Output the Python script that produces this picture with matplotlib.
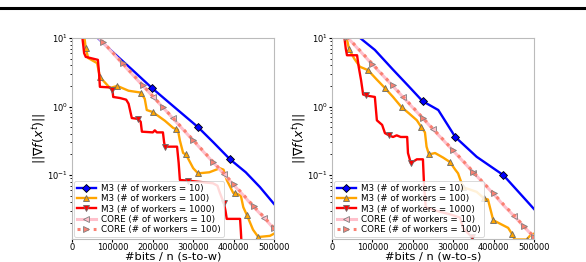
import numpy as np
import matplotlib
matplotlib.use('Agg')
import matplotlib.pyplot as plt
from matplotlib.lines import Line2D
from matplotlib.ticker import FixedLocator, ScalarFormatter

# ---- data (x = #bits / n, y = gradient norm) ----
labels = ['M3 (# of workers = 10)', 'M3 (# of workers = 100)', 'M3 (# of workers = 1000)',
          'CORE (# of workers = 10)', 'CORE (# of workers = 100)']
xlabels = ['#bits / n (s-to-w)', '#bits / n (w-to-s)']
xticks = [0, 100000, 200000, 300000, 400000, 500000]

# left panel (s-to-w)
m3_10_sw_x = [60000, 100000, 150000, 198000, 250000, 312000, 350000, 391000, 430000, 465000, 500000]
m3_10_sw_y = [10.5, 6.3, 3.4, 1.86, 1.02, 0.50, 0.30, 0.17, 0.11, 0.067, 0.038]

m3_100_sw_x = [30000, 34000, 40000, 62000, 69000, 94000, 112000, 140000, 170000, 180000, 185000,
               200000, 230000, 250000, 257000, 262000, 267000, 275000, 282000, 300000, 312000,
               340000, 366000, 375000, 383000, 399000, 404000, 418000, 424000, 433000, 448000,
               461000, 490000, 500000]
m3_100_sw_y = [11, 7.1, 5.1, 4.3, 2.7, 1.86, 2.0, 1.7, 1.6, 1.3, 0.89,
               0.83, 0.62, 0.49, 0.47, 0.46, 0.32, 0.21, 0.2, 0.126, 0.106,
               0.11, 0.126, 0.12, 0.085, 0.055, 0.055, 0.05, 0.034, 0.026, 0.016,
               0.0125, 0.013, 0.014]

m3_1000_sw_x = [25000, 30000, 34000, 64000, 67000, 69000, 94000, 100000, 102000, 119000, 134000,
                140000, 148000, 163000, 170000, 173000, 200000, 205000, 210000, 225000, 228000,
                230000, 260000, 264000, 267000, 287000, 349000, 360000, 366000, 376000, 380000,
                383000, 416000, 418000, 420000]
m3_1000_sw_y = [11, 6.0, 5.3, 4.8, 3.0, 1.94, 1.9, 1.75, 1.38, 1.33, 1.26,
                1.1, 0.68, 0.66, 0.6, 0.43, 0.42, 0.45, 0.42, 0.42, 0.3,
                0.26, 0.26, 0.15, 0.085, 0.083, 0.076, 0.07, 0.055, 0.039, 0.03,
                0.023, 0.023, 0.015, 0.009]

core_sw_x = [60000, 77000, 100000, 125000, 150000, 175000, 200000, 225000, 250000, 275000,
             300000, 325000, 350000, 375000, 400000, 425000, 450000, 475000, 500000]
core_10_sw_y = [11.0, 8.6, 6.1, 4.2, 2.9, 2.02, 1.40, 0.97, 0.67, 0.46,
                0.32, 0.22, 0.152, 0.105, 0.072, 0.050, 0.034, 0.024, 0.0165]
core_100_sw_y = [11.2, 8.7, 6.2, 4.3, 2.96, 2.05, 1.42, 0.98, 0.68, 0.47,
                 0.325, 0.224, 0.155, 0.107, 0.074, 0.051, 0.035, 0.0245, 0.017]

# right panel (w-to-s)
m3_10_ws_x = [65000, 106000, 150000, 190000, 224000, 263000, 305000, 358000, 424000, 473000, 500000]
m3_10_ws_y = [10.5, 6.7, 3.5, 1.97, 1.2, 0.89, 0.36, 0.185, 0.10, 0.048, 0.032]

m3_100_ws_x = [35000, 42000, 55000, 69000, 89000, 110000, 131000, 151000, 172000, 190000, 210000,
               221000, 230000, 234000, 240000, 255000, 275000, 292000, 305000, 312000, 324000,
               340000, 358000, 376000, 386000, 399000, 420000, 436000, 445000, 452000, 482000,
               492000, 500000]
m3_100_ws_y = [11, 6.9, 5.0, 3.8, 3.4, 2.5, 1.86, 1.38, 0.98, 0.8, 0.63,
               0.50, 0.42, 0.26, 0.2, 0.21, 0.18, 0.155, 0.12, 0.106, 0.067,
               0.062, 0.057, 0.046, 0.044, 0.022, 0.019, 0.017, 0.014, 0.0115, 0.0115,
               0.0135, 0.014]

m3_1000_ws_x = [30000, 34000, 37000, 62000, 66000, 72000, 77000, 84000, 106000, 111000, 124000,
                131000, 141000, 151000, 160000, 170000, 186000, 188000, 195000, 210000, 225000,
                228000, 232000, 260000, 290000, 317000, 324000, 346000, 350000]
m3_1000_ws_y = [11, 7, 5.6, 5.6, 3.8, 2.4, 1.5, 1.45, 1.38, 0.63, 0.54,
                0.41, 0.38, 0.36, 0.38, 0.36, 0.36, 0.21, 0.15, 0.17, 0.17,
                0.067, 0.034, 0.03, 0.027, 0.024, 0.017, 0.0125, 0.009]

core_ws_x = [38000, 60000, 80000, 100000, 125000, 150000, 175000, 200000, 225000, 250000,
             275000, 300000, 325000, 350000, 375000, 400000, 425000, 450000, 475000, 500000]
core_10_ws_y = [10.2, 7.4, 5.5, 4.1, 2.87, 2.0, 1.39, 0.96, 0.67, 0.465,
                0.325, 0.226, 0.157, 0.109, 0.076, 0.053, 0.036, 0.0255, 0.0177, 0.0124]
core_100_ws_y = [10.3, 7.5, 5.6, 4.19, 2.91, 2.03, 1.41, 0.98, 0.68, 0.474,
                 0.33, 0.23, 0.16, 0.111, 0.077, 0.054, 0.037, 0.026, 0.018, 0.0126]


def draw_panel(ax, series, xlabel):
    (b_x, b_y, b_m), (o_x, o_y, o_m), (r_x, r_y, r_m), (c_x, c10_y, c10_m, c100_y, c100_m) = series

    ax.plot(b_x, b_y, color='blue', lw=1.7, marker='D', ms=4.5, mfc='blue', mec='black',
            mew=0.6, markevery=b_m, label=labels[0])
    ax.plot(o_x, o_y, color='orange', lw=1.7, marker='^', ms=5, mfc='orange', mec='dimgray',
            mew=0.6, markevery=o_m, label=labels[1])
    ax.plot(r_x, r_y, color='red', lw=1.7, marker='v', ms=5, mfc='red', mec='dimgray',
            mew=0.6, markevery=r_m, label=labels[2])
    ax.plot(c_x, c10_y, color='pink', lw=2.2, marker='<', ms=5, mfc='pink', mec='gray',
            mew=0.6, markevery=c10_m, label=labels[3])
    ax.plot(c_x, c100_y, color='salmon', lw=2.2, ls=':', marker='>', ms=5, mfc='salmon',
            mec='gray', mew=0.6, markevery=c100_m, label=labels[4])

    ax.set_yscale('log')
    ax.set_xlim(0, 500000)
    ax.set_ylim(0.0117, 10)
    ax.xaxis.set_major_locator(FixedLocator(xticks))
    fmt = ScalarFormatter()
    fmt.set_scientific(False)
    fmt.set_useOffset(False)
    ax.xaxis.set_major_formatter(fmt)
    ax.tick_params(labelsize=6, length=2.5, pad=0.5)
    ax.tick_params(which='minor', length=1.5)
    ax.set_xlabel(xlabel, fontsize=8.2, labelpad=-0.3)
    ax.set_ylabel(r'$||\nabla f(x^t)||$', fontsize=9, labelpad=-1)
    for s in ax.spines.values():
        s.set_color('#bbbbbb')
    leg = ax.legend(loc='lower left', fontsize=6.3, borderaxespad=0.25, handlelength=2.2,
                    labelspacing=0.15, borderpad=0.3, handletextpad=0.6, framealpha=0.85)
    leg.get_frame().set_linewidth(0.6)


def main():
    fig = plt.figure(figsize=(5.86, 2.62), dpi=100)
    ax1 = fig.add_axes([0.1229, 0.0878, 0.3447, 0.7672])
    ax2 = fig.add_axes([0.5666, 0.0878, 0.3447, 0.7672])

    draw_panel(ax1, [
        (m3_10_sw_x, m3_10_sw_y, [3, 5, 7]),
        (m3_100_sw_x, m3_100_sw_y, [1, 4, 6, 8, 11, 14, 18, 20, 26, 29, 31]),
        (m3_1000_sw_x, m3_1000_sw_y, [7, 13, 21, 25, 29]),
        (core_sw_x, core_10_sw_y, [6, 8, 13, 17], core_100_sw_y, [1, 3, 5, 7, 10, 12, 14, 16, 18]),
    ], xlabels[0])

    draw_panel(ax2, [
        (m3_10_ws_x, m3_10_ws_y, [4, 6, 8]),
        (m3_100_ws_x, m3_100_ws_y, [1, 4, 6, 8, 11, 14, 17, 20, 23, 25, 28, 30]),
        (m3_1000_ws_x, m3_1000_ws_y, [7, 12, 18, 27]),
        (core_ws_x, core_10_ws_y, [6, 9, 13, 17], core_100_ws_y, [0, 3, 5, 8, 11, 13, 15, 18, 19]),
    ], xlabels[1])

    # rule from the page above the figure
    fig.add_artist(Line2D([0, 1], [0.971, 0.971], color='black', lw=2.2,
                          transform=fig.transFigure))

    fig.savefig('out.png', dpi=100)


if __name__ == '__main__':
    main()
